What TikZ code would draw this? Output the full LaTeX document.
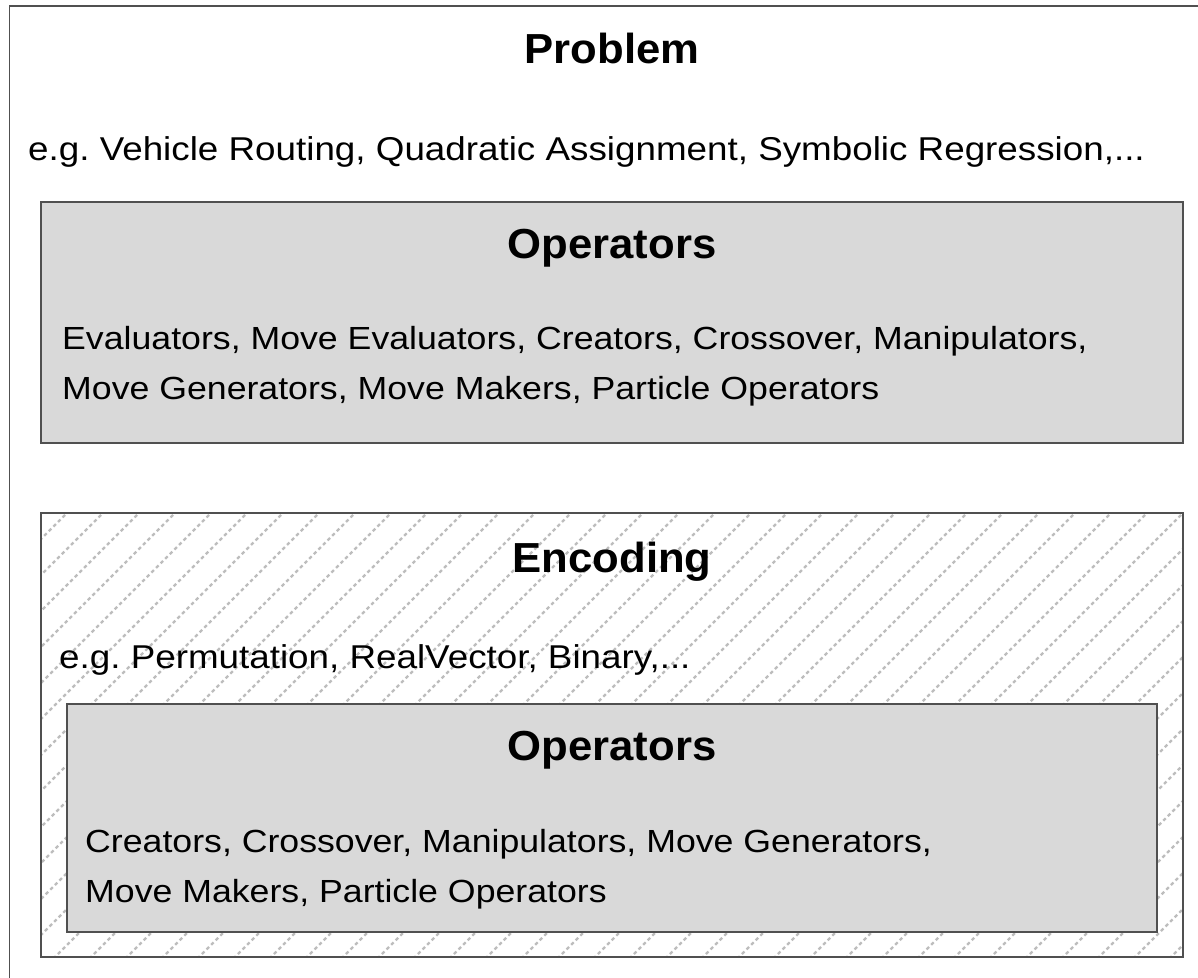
\documentclass[tikz,border=0pt]{standalone}
\usepackage{fontspec}
\setmainfont{Liberation Sans}[FakeStretch=1.115]
\newfontfamily\headfont{Liberation Sans}[FakeStretch=1.04]
\usepackage{xcolor}
\usetikzlibrary{positioning}
\definecolor{layeredge}{HTML}{505050}
\definecolor{layerfill}{HTML}{D9D9D9}
\definecolor{layerhatch}{HTML}{BDBDBD}

\begin{document}
\begin{tikzpicture}[x=1pt,y=-1pt,
  boxline/.style={draw=layeredge, line width=1.5pt},
  headtext/.style={font=\headfont\bfseries\fontsize{42}{50}\selectfont, anchor=base, inner sep=0pt},
  bodytext/.style={font=\fontsize{32}{50}\selectfont, anchor=base west, inner sep=0pt},
  egtext/.style={bodytext, font=\fontsize{33}{50}\selectfont},
  hatchline/.style={draw=layerhatch, line width=2.2pt, dash pattern=on 3.5pt off 3pt}]
  \useasboundingbox (0,0) rectangle (1198,977);
  \fill[white] (0,0) rectangle (1198,977);
  \clip (0,0) rectangle (1198,977);
  % problem layer
  \draw[boxline] (9.5,6) rectangle (1215,995);
  \node[headtext] (probhead) at (612,63) {Problem};
  \node[egtext] (probtext) at (28,160)
    {e.g.\ Vehicle Routing, Quadratic Assignment, Symbolic Regression,...};
  % problem operators
  \draw[boxline, fill=layerfill] (41,202) rectangle (1183,443);
  \node[headtext] (probops) at (612,258) {Operators};
  \node[bodytext] (probopsA) at (62,349)
    {Evaluators, Move Evaluators, Creators, Crossover, Manipulators,};
  \node[bodytext] (probopsB) at (62,399)
    {Move Generators, Move Makers, Particle Operators};
  % encoding layer, hatched
  \begin{scope}
    \clip (41,513) rectangle (1183,957);
    \foreach \k in {-1,...,44}
      \draw[hatchline] (580+36*\k-1000,1000) -- (580+36*\k,0);
  \end{scope}
  \draw[boxline] (41,513) rectangle (1183,957);
  \node[headtext] (enchead) at (612,572) {Encoding};
  \node[egtext] (enctext) at (59,668)
    {e.g.\ Permutation, RealVector, Binary,...};
  % encoding operators
  \draw[boxline, fill=layerfill] (67,704) rectangle (1157,932);
  \node[headtext] (encops) at (612,760) {Operators};
  \node[bodytext] (encopsA) at (85,852)
    {Creators, Crossover, Manipulators, Move Generators,};
  \node[bodytext] (encopsB) at (85,902)
    {Move Makers, Particle Operators};
\end{tikzpicture}
\end{document}
